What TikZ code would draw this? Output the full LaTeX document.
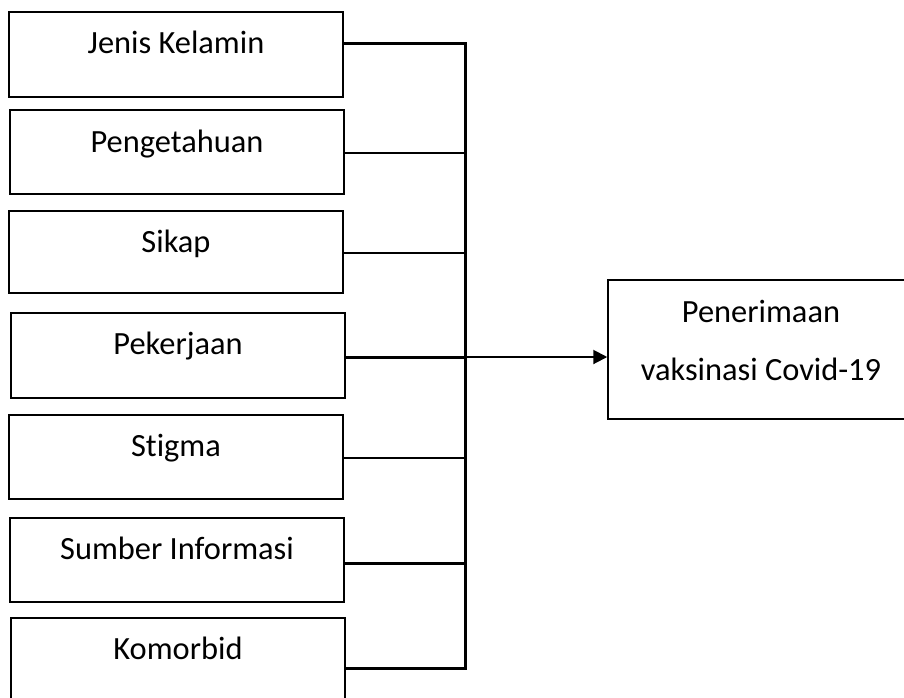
\documentclass[tikz,border=0pt]{standalone}
\usepackage{fontspec}
\setmainfont[Ligatures=NoCommon]{Carlito}
\usetikzlibrary{arrows.meta}
\begin{document}
\begin{tikzpicture}[x=0.5pt,y=-0.5pt,
  box/.style={draw, line width=0.75pt, rectangle, inner sep=0pt, minimum width=167pt},
  lbl/.style={anchor=base, font=\fontsize{16.2}{19}\selectfont, inner sep=0pt},
  wthick/.style={line width=1.5pt},
  wmed/.style={line width=1pt}]
\clip (0,0) rectangle (904,697);
% left boxes
\node[box, minimum height=42.5pt] (b1) at (176,54.5) {};
\node[box, minimum height=42pt]   (b2) at (177,152) {};
\node[box, minimum height=41pt]   (b3) at (176,252) {};
\node[box, minimum height=42.5pt] (b4) at (178,355.5) {};
\node[box, minimum height=42pt]   (b5) at (176,457) {};
\node[box, minimum height=42pt]   (b6) at (177,560) {};
\node[box, minimum height=42.5pt] (b7) at (178,660.5) {};
% labels
\node[lbl] (t1) at (176,53) {Jenis Kelamin};
\node[lbl] (t2) at (177,152) {Pengetahuan};
\node[lbl] (t3) at (176,252) {Sikap};
\node[lbl] (t4) at (178,354) {Pekerjaan};
\node[lbl] (t5) at (176,456) {Stigma};
\node[lbl] (t6) at (177,559) {Sumber Informasi};
\node[lbl] (t7) at (178,659) {Komorbid};
% right box
\node[box, minimum width=153pt, minimum height=69.5pt] (r) at (761,349.5) {};
\node[lbl] (r1) at (761,322) {Penerimaan};
\node[lbl] (r2) at (761,380) {vaksinasi Covid-19};
% bus coordinates
\coordinate (j1) at (465,43);
\coordinate (j2) at (465,153);
\coordinate (j3) at (465,253);
\coordinate (j4) at (465,357);
\coordinate (j5) at (465,458);
\coordinate (j6) at (465,563);
\coordinate (j7) at (465,668);
% connectors
\draw[wthick] (b1.east |- j1) -- (j1);
\draw[wmed] (b2.east |- j2) -- (j2);
\draw[wmed] (b3.east |- j3) -- (j3);
\draw[wthick] (b4.east |- j4) -- (j4);
\draw[wmed] (b5.east |- j5) -- (j5);
\draw[wthick] (b6.east |- j6) -- (j6);
\draw[wthick] (b7.east |- j7) -- (j7);
\draw[wthick, line cap=rect] (j1) -- (j7);
\draw[wmed, -{Triangle[length=7pt,width=7pt]}] (j4) -- (r.west |- j4);
\end{tikzpicture}
\end{document}
